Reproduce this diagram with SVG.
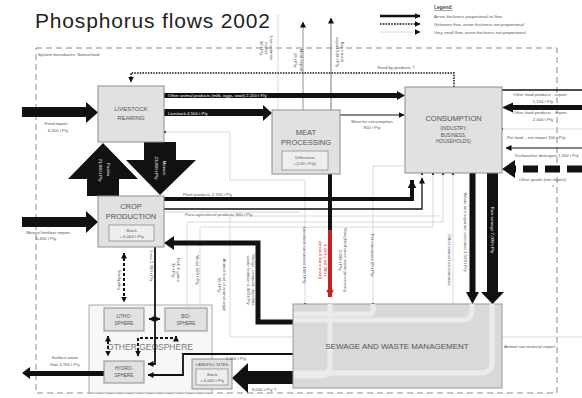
<svg xmlns="http://www.w3.org/2000/svg" width="582" height="398" viewBox="0 0 582 398">
  <defs>
    <style>
      text { font-family: "Liberation Sans", Arial, sans-serif; fill: #555; }
      .title { font-size: 21px; fill: #222; }
      .box { fill: #e1e1e1; stroke: #8e8e8e; stroke-width: 1; }
      .inner { fill: #eeeeee; stroke: #8e8e8e; stroke-width: 0.8; }
      .big { font-size: 7.5px; text-anchor: middle; }
      .mid { font-size: 6px; text-anchor: middle; }
      .sm { font-size: 4.3px; }
      .smc { font-size: 4.3px; text-anchor: middle; }
      .wt { fill: #fff; }
      .red { fill: #d02020; }
      .flow { fill: none; stroke: #111; }
      .light { fill: none; stroke: #cfcfcf; stroke-width: 0.8; }
      .geo { fill: none; stroke: #111; stroke-width: 2; stroke-dasharray: 3 2; }
      .bound { fill: none; stroke: #8a8a8a; stroke-width: 1; stroke-dasharray: 6 4; }
    </style>
    <marker id="ah" viewBox="0 0 6 6" refX="5.5" refY="3" markerWidth="6" markerHeight="6" markerUnits="userSpaceOnUse" orient="auto">
      <path d="M0,0 L6,3 L0,6 z" fill="#111"/>
    </marker>
    <marker id="ahBig" viewBox="0 0 8 8" refX="7.5" refY="4" markerWidth="9" markerHeight="9" markerUnits="userSpaceOnUse" orient="auto">
      <path d="M0,0 L8,4 L0,8 z" fill="#111"/>
    </marker>
    <marker id="ahRed" viewBox="0 0 8 8" refX="7.5" refY="4" markerWidth="8" markerHeight="8" markerUnits="userSpaceOnUse" orient="auto">
      <path d="M0,0 L8,4 L0,8 z" fill="#c62020"/>
    </marker>
    <marker id="ahGeo" viewBox="0 0 6 6" refX="5.5" refY="3" markerWidth="6" markerHeight="6" markerUnits="userSpaceOnUse" orient="auto-start-reverse">
      <path d="M0,0 L6,3 L0,6 z" fill="#111"/>
    </marker>
    <marker id="dot" viewBox="0 0 4 4" refX="2" refY="2" markerWidth="2.5" markerHeight="2.5" markerUnits="userSpaceOnUse">
      <circle cx="2" cy="2" r="2" fill="#333"/>
    </marker>
  </defs>

  <rect width="582" height="398" fill="#fff"/>

  <!-- title -->
  <text class="title" x="35" y="28" textLength="235">Phosphorus flows 2002</text>

  <!-- legend -->
  <g id="legend">
    <text x="434" y="9" style="font-size:4.8px;font-weight:bold;text-decoration:underline;fill:#444">Legend:</text>
    <line x1="380" y1="16" x2="420" y2="16" stroke="#111" stroke-width="2.5" marker-end="url(#ah)"/>
    <line x1="380" y1="24" x2="420" y2="24" stroke="#111" stroke-width="1.6" stroke-dasharray="1.6 1.2" marker-end="url(#ah)"/>
    <line x1="380" y1="32" x2="420" y2="32" stroke="#cfcfcf" stroke-width="0.8" marker-end="url(#ah)"/>
    <text class="sm" x="434" y="18">Arrow thickness proportional to flow</text>
    <text class="sm" x="434" y="26">Unknown flow, arrow thickness not proportional</text>
    <text class="sm" x="434" y="34">Very small flow, arrow thickness not proportional</text>
  </g>

  <!-- system boundary -->
  <g id="boundary">
    <rect class="bound" x="36" y="48" width="521" height="345"/>
    <text class="sm" x="38" y="56">System boundaries: Switzerland</text>
  </g>

  <!-- container for the three sub-spheres, drawn beneath the flows -->
  <g id="geosphere">
    <rect x="89" y="305" width="123" height="88" fill="#f7f7f7" stroke="#9a9a9a" stroke-width="0.8"/>
    <text x="150" y="350" style="font-size:8.5px;text-anchor:middle;fill:#777">OTHER GEOSPHERE</text>
  </g>

  <!-- connectors -->
  <g id="connectors">
    <!-- very small flows (light lines) -->
    <path class="light" d="M278 110 V14"/>
    <path class="light" d="M165 132 H230 V180 H305 V304" marker-start="url(#dot)" marker-end="url(#dot)"/>
    <path class="light" d="M405 166 H373 V304" marker-end="url(#dot)"/>
    <path class="light" d="M187 308 V222 H443 V175"/>
    <path class="light" d="M200 308 V227 H433 V175"/>
    <path class="light" d="M293 337 H230 V216 H440"/>
    <path class="light" d="M453 173 V304"/>
    <path class="light" d="M502 337 H582"/>
    <path class="light" d="M502 129 H582" marker-start="url(#dot)"/>

    <!-- exports from meat processing (top) -->
    <path d="M303 110 V22" fill="none" stroke="#777" stroke-width="0.8" marker-end="url(#ah)"/>
    <path d="M331 110 V18" fill="none" stroke="#555" stroke-width="0.8" marker-end="url(#ah)"/>

    <!-- food by-products (unknown) -->
    <path d="M454 87 V73 H131 V82" fill="none" stroke="#111" stroke-width="1.5" stroke-dasharray="1.5 1.2" marker-end="url(#ah)"/>

    <!-- feed import -->
    <polygon points="22,107 86,107 86,102 98,112.5 86,123 86,117 22,117" fill="#111"/>
    <!-- mineral fertilizer import -->
    <polygon points="22,217 86,217 86,211 98,222 86,233 86,227 22,227" fill="#111"/>

    <!-- other animal products -->
    <polygon points="164,93 397,93 397,91 405,95.5 397,100 397,98 164,98" fill="#111"/>
    <!-- livestock to meat processing -->
    <polygon points="164,109 263,109 263,105 272,113 263,121 263,116 164,116" fill="#111"/>

    <!-- fodder (crop to livestock) -->
    <polygon points="87,196 87,179 68,179 103,143 138,179 119,179 119,196" fill="#111"/>
    <!-- manure (livestock to crop) -->
    <polygon points="144,142 176,142 176,160 196,160 160,195 126,160 144,160" fill="#111"/>

    <!-- meat for consumption -->
    <path class="flow" d="M340 115 H404" stroke-width="1" marker-end="url(#ah)"/>

    <!-- plant products -->
    <path class="flow" d="M164 199 H412 V180" stroke-width="4" marker-end="url(#ahBig)"/>
    <!-- para-agricultural products -->
    <path class="flow" d="M164 209 H422 V178" stroke-width="1.3" marker-end="url(#ah)"/>
    <path d="M164 212 H300" fill="none" stroke="#bbb" stroke-width="0.6"/>

    <!-- slaughter waste from meat processing -->
    <path d="M330 174 V231" fill="none" stroke="#111" stroke-width="4"/>
    <path d="M330 230 V297" fill="none" stroke="#c62020" stroke-width="4" marker-end="url(#ahRed)"/>

    <!-- small flows into consumption bottom -->
    <g fill="#333">
      <rect x="421" y="173" width="2" height="2"/>
      <rect x="432" y="173" width="2" height="2"/>
      <rect x="442" y="173" width="2" height="2"/>
      <rect x="452" y="173" width="2" height="2"/>
    </g>

    <!-- waste and separate collection -->
    <polygon points="469.5,173 475.5,173 475.5,292 479,292 472.5,304 466,292 469.5,292" fill="#111"/>
    <!-- raw sewage -->
    <polygon points="487,173 498,173 498,292 504,292 492.5,304 481,292 487,292" fill="#111"/>

    <!-- right side: trade -->
    <path class="flow" d="M502 90 H582" stroke-width="1.3"/>
    <polygon points="582,105 513,105 513,102.5 502,107.5 513,112.5 513,110 582,110" fill="#111"/>
    <path class="flow" d="M582 148 H506" stroke-width="1.2" marker-end="url(#ah)"/>
    <path d="M582 169 H514" fill="none" stroke="#111" stroke-width="7" stroke-dasharray="15 7"/>
    <polygon points="515,160 502,169 515,178" fill="#111"/>

    <!-- sludge back to crop production -->
    <path class="flow" d="M293 322 H258 V243 H172" stroke-width="5"/>
    <polygon points="174,236 164,243 174,250" fill="#111"/>

    <!-- loss to hydrosphere -->
    <path class="flow" d="M155 247 V364 H148" stroke-width="1.8" marker-end="url(#ah)"/>
    <!-- sewage to hydrosphere -->
    <path class="flow" d="M293 354 H183 V375 H148" stroke-width="1.8" marker-end="url(#ah)"/>
    <!-- sewage to landfill -->
    <polygon points="293,371 248,371 248,363 232,378 248,393 248,384 293,384" fill="#111"/>
    <!-- surface water -->
    <polygon points="104,371 30,371 30,367 22,373 30,379 30,376 104,376" fill="#111"/>

    <!-- geosphere exchanges (unknown) -->
    <path class="geo" d="M124 253 V302" marker-start="url(#ahGeo)" marker-end="url(#ahGeo)"/>
    <path class="geo" d="M149 319 H160" marker-start="url(#ahGeo)" marker-end="url(#ahGeo)"/>
    <path class="geo" d="M108 336 V356" marker-start="url(#ahGeo)" marker-end="url(#ahGeo)"/>
    <path class="geo" d="M138 356 V338 H176 V336" marker-start="url(#ahGeo)" marker-end="url(#ahGeo)"/>
  </g>

  <!-- nodes -->
  <g id="livestock">
    <rect class="box" x="98" y="86" width="66" height="56"/>
    <text class="mid" x="131" y="111">LIVESTOCK</text>
    <text class="mid" x="131" y="120">REARING</text>
  </g>

  <g id="crop">
    <rect class="box" x="98" y="196" width="66" height="51"/>
    <text class="big" x="131" y="209">CROP</text>
    <text class="big" x="131" y="219">PRODUCTION</text>
    <rect class="inner" x="109" y="225" width="45" height="16"/>
    <text class="smc" x="131.5" y="231.5">Stock</text>
    <text class="smc" x="131.5" y="238">+ 6,000 t P/y</text>
  </g>

  <g id="meat">
    <rect class="box" x="272" y="110" width="68" height="64"/>
    <text class="big" x="306" y="135">MEAT</text>
    <text class="big" x="306" y="145">PROCESSING</text>
    <rect class="inner" x="282" y="151" width="46" height="19"/>
    <text class="smc" x="305" y="158.5">Difference</text>
    <text class="smc" x="305" y="165">+(130 t P/y)</text>
  </g>

  <g id="consumption">
    <rect class="box" x="405" y="87" width="97" height="86"/>
    <text class="big" x="453.5" y="121">CONSUMPTION</text>
    <text class="smc" x="453.5" y="130" style="font-size:4.8px">(INDUSTRY,</text>
    <text class="smc" x="453.5" y="136.5" style="font-size:4.8px">BUSINESS,</text>
    <text class="smc" x="453.5" y="143" style="font-size:4.8px">HOUSEHOLDS)</text>
  </g>

  <g id="sewage">
    <rect x="293" y="304" width="209" height="84" fill="#d9d9d9" stroke="#999" stroke-width="1"/>
    <g fill="none" stroke="#ebebeb" stroke-width="5">
      <path d="M330 304 V366 Q330 376 320 376 H294"/>
      <path d="M472 304 V310 Q472 320 462 320 H294"/>
      <path d="M492 304 V362 Q492 373 481 373 H294"/>
      <path d="M373 304 V310 Q373 314 369 314 H294"/>
    </g>
    <text class="big" x="397" y="349" style="font-size:8px">SEWAGE AND WASTE MANAGEMENT</text>
  </g>

  <g id="lithosphere">
    <rect class="box" x="104" y="308" width="40" height="23"/>
    <text class="smc" x="124" y="317.5" style="font-size:4.6px">LITHO-</text>
    <text class="smc" x="124" y="324.5" style="font-size:4.6px">SPHERE</text>
  </g>

  <g id="biosphere">
    <rect class="box" x="165" y="308" width="42" height="23"/>
    <text class="smc" x="186" y="317.5" style="font-size:4.6px">BIO-</text>
    <text class="smc" x="186" y="324.5" style="font-size:4.6px">SPHERE</text>
  </g>

  <g id="hydrosphere">
    <rect class="box" x="104" y="361" width="40" height="22"/>
    <text class="smc" x="124" y="370" style="font-size:4.6px">HYDRO-</text>
    <text class="smc" x="124" y="377" style="font-size:4.6px">SPHERE</text>
  </g>

  <g id="landfill">
    <rect class="box" x="192" y="359" width="40" height="30"/>
    <text class="smc" x="212" y="366" style="font-size:4.2px">LANDFILL SITES</text>
    <rect class="inner" x="196" y="369" width="32" height="16"/>
    <text class="smc" x="212" y="375.5">Stock</text>
    <text class="smc" x="212" y="381.5">+ 6,000 t P/y</text>
  </g>

  <!-- flow labels -->
  <g id="labels">
    <text class="smc" x="56" y="125">Feed import</text>
    <text class="smc" x="58" y="132">6,300 t P/y</text>
    <text class="smc" x="48" y="234">Mineral fertilizer import</text>
    <text class="smc" x="46" y="240">6,400 t P/y</text>
    <text class="sm wt" x="168" y="97.3">Other animal products (milk, eggs, wool) 2,200 t P/y</text>
    <text class="sm wt" x="168" y="114.5">Livestock  4,500 t P/y</text>
    <text class="smc" x="372" y="123">Meat for consumption</text>
    <text class="smc" x="372" y="129">850 t P/y</text>
    <text class="smc" x="396" y="69">Food by-products ?</text>
    <text class="sm" x="183" y="196">Plant products 2,700 t P/y</text>
    <text class="sm" x="185" y="215.5">Para-agricultural products  900 t P/y</text>
    <text class="smc" x="236" y="360">1,300 t P/y</text>
    <text class="sm" x="252" y="391">8,000 t P/y  ?</text>
    <text class="smc" x="65" y="359">Surface water</text>
    <text class="smc" x="65" y="366">flow 2,700 t P/y</text>
    <text class="sm" x="513" y="96">Other food products - export</text>
    <text class="smc" x="543" y="102.5">1,100 t P/y</text>
    <text class="sm" x="513" y="114">Other food products - import</text>
    <text class="smc" x="543" y="120.5">2,400 t P/y</text>
    <text class="sm" x="507" y="139">Pet food – net import  300 t P/y</text>
    <text class="sm" x="515" y="157">Dishwasher detergent 1,300 t P/y</text>
    <text class="sm" x="519" y="181">Other goods (net import)</text>
    <text class="smc" x="553" y="188">?</text>
    <text class="sm" x="504" y="348">Animal raw material export</text>

    <!-- rotated labels, reading top to bottom -->
    <g>
      <text class="smc" transform="translate(107,170) rotate(90)" style="fill:#fff">Fodder</text>
      <text class="smc" transform="translate(99,170) rotate(90)" style="fill:#fff">21,800 t P/y</text>
      <text class="smc" transform="translate(163,168) rotate(90)" style="fill:#fff">Manure</text>
      <text class="smc" transform="translate(155,168) rotate(90)" style="fill:#fff">23,800 t P/y</text>

      <text class="smc" transform="translate(270,48) rotate(90)">Live animals</text>
      <text class="smc" transform="translate(265,48) rotate(90)">export</text>
      <text class="smc" transform="translate(260,48) rotate(90)">30 t P/y</text>
      <text class="smc" transform="translate(300,60) rotate(90)">Meat export</text>
      <text class="smc" transform="translate(294,60) rotate(90)">40 t P/y</text>
      <text class="smc" transform="translate(341,52) rotate(90)">Bone meal</text>
      <text class="smc" transform="translate(336,52) rotate(90)">export 500 t P/y</text>

      <text class="smc" transform="translate(118,280) rotate(90)">Stockpiling</text>
      <text class="smc" transform="translate(150,266) rotate(90)">Loss 2,000 t P/y</text>
      <text class="smc" transform="translate(177,270) rotate(90)">Fish &amp; game</text>
      <text class="smc" transform="translate(172,270) rotate(90)">30 t P/y</text>
      <text class="smc" transform="translate(196,270) rotate(90)">Wood  100 t P/y</text>
      <text class="smc" transform="translate(223,285) rotate(90)">Animal food of animal origin</text>
      <text class="smc" transform="translate(218,285) rotate(90)">55 t P/y</text>
      <text class="smc" transform="translate(252,280) rotate(90)">Sludge, compost, digestate</text>
      <text class="smc" transform="translate(247,280) rotate(90)">waste fertiliser 4,000 t P/y</text>
      <text class="smc" transform="translate(303,255) rotate(90)">Livestock carcasses 160 t P/y</text>
      <text class="smc red" transform="translate(324,260) rotate(90)">1,400 + full 300 t</text>
      <text class="smc red" transform="translate(319,260) rotate(90)">(meat &amp; bone meal)</text>
      <text class="smc" transform="translate(344,260) rotate(90)">Slaughterhouse waste processing</text>
      <text class="smc" transform="translate(339,260) rotate(90)">2,800 t P/y</text>
      <text class="smc" transform="translate(371,255) rotate(90)">Pet carcasses 15 t P/y</text>
      <text class="smc" transform="translate(448,260) rotate(90)">Other animal raw materials</text>
      <text class="smc" transform="translate(464,232) rotate(90)">Waste and separate collection 1,500 t P/y</text>
      <text class="smc" transform="translate(491,230) rotate(90)" style="fill:#fff">Raw sewage  7,000 t P/y</text>
    </g>
  </g>
</svg>
